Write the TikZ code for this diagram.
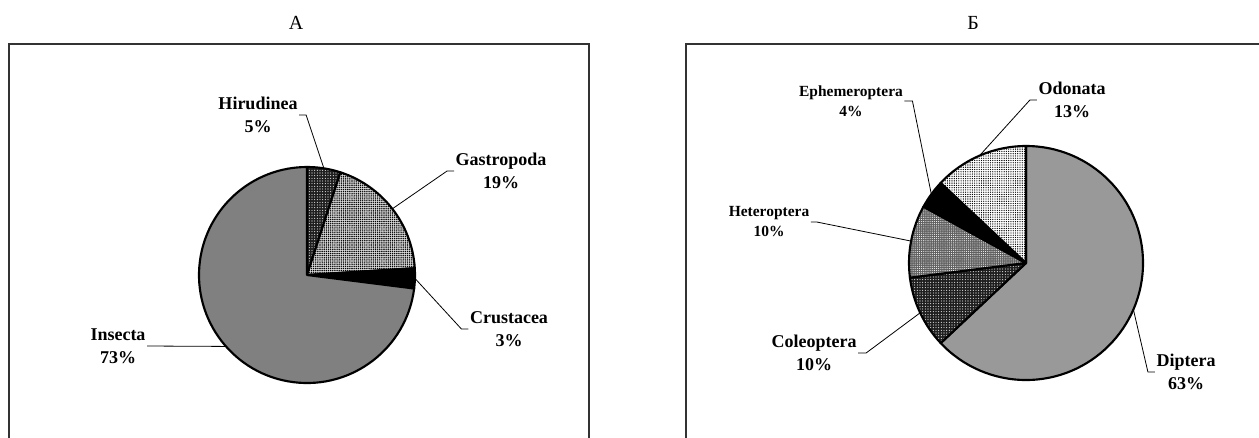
\documentclass[tikz,border=0pt]{standalone}
\usepackage{fontspec}
\setmainfont{Liberation Serif}
\usetikzlibrary{patterns.meta}

\begin{document}
\begin{tikzpicture}[x=0.75pt,y=-0.75pt]
\tikzstyle{ttl}=[font=\fontsize{15}{18}\selectfont,inner sep=1pt]
\tikzstyle{lbl}=[font=\bfseries\fontsize{13.5}{17.5}\selectfont,align=center,inner sep=1pt]
\tikzstyle{lblsmall}=[font=\bfseries\fontsize{11.6}{15}\selectfont,align=center,inner sep=1pt]
\tikzstyle{slice}=[draw=black,line width=1.6pt,line join=round]
\tikzstyle{leader}=[draw=black,line width=0.6pt]
\tikzstyle{frame}=[draw=black!80,line width=0.9pt]
\tikzstyle{darkdots}=[preaction={fill=black!88},pattern={Dots[distance=2pt,radius=0.4pt]},pattern color=white]
\tikzstyle{middots}=[preaction={fill=black!62},pattern={Dots[distance=1.6pt,radius=0.4pt]},pattern color=white]
\tikzstyle{checkdots}=[preaction={fill=black!15},pattern={Dots[distance=1.6pt,radius=0.6pt]},pattern color=black]
\tikzstyle{lightdots}=[preaction={fill=white},pattern={Dots[distance=1.7pt,radius=0.5pt]},pattern color=black]
\useasboundingbox (0,0) rectangle (1259,437);
\clip (0,0) rectangle (1259,437);

% panel frames and titles
\draw[frame] (9,445) -- (9,44) -- (589,44) -- (589,445);
\draw[frame] (686,445) -- (686,44) -- (1265,44);
\node[ttl] (A_t) at (296,23) {А};
\node[ttl] (B_t) at (973,23) {Б};

% pie A
\coordinate (A_c) at (307,275);
\draw[slice,darkdots] (A_c) -- ++(-90:108) arc[start angle=-90,end angle=-72,radius=108] -- cycle;
\draw[slice,checkdots] (A_c) -- ++(-72:108) arc[start angle=-72,end angle=-3.6,radius=108] -- cycle;
\draw[slice,fill=black] (A_c) -- ++(-3.6:108) arc[start angle=-3.6,end angle=7.2,radius=108] -- cycle;
\draw[slice,fill=black!50] (A_c) -- ++(7.2:108) arc[start angle=7.2,end angle=270,radius=108] -- cycle;
\path (A_c) ++(-81:108) coordinate (A_hirE);
\path (A_c) ++(-37.8:108) coordinate (A_gasE);
\path (A_c) ++(1.8:108) coordinate (A_cruE);
\path (A_c) ++(138.6:108) coordinate (A_insE);

\node[lbl] (A_hir) at (258,115) {Hirudinea\\5\%};
\node[lbl] (A_gas) at (501,171) {Gastropoda\\19\%};
\node[lbl] (A_cru) at (509,329) {Crustacea\\3\%};
\node[lbl] (A_ins) at (118,346) {Insecta\\73\%};
\draw[leader] (A_hir.east) -- ++(7,0) -- (A_hirE);
\draw[leader] (A_gas.west) -- ++(-7,0) -- (A_gasE);
\draw[leader] (A_cru.west) -- ++(-7,0) -- (A_cruE);
\draw[leader] (A_ins.east) -- (A_insE);

% pie B
\coordinate (B_c) at (1026,263);
\draw[slice,fill=black!40] (B_c) -- ++(-90:117) arc[start angle=-90,end angle=136.8,radius=117] -- cycle;
\draw[slice,darkdots] (B_c) -- ++(136.8:117) arc[start angle=136.8,end angle=172.8,radius=117] -- cycle;
\draw[slice,middots] (B_c) -- ++(172.8:117) arc[start angle=172.8,end angle=208.8,radius=117] -- cycle;
\draw[slice,fill=black] (B_c) -- ++(208.8:117) arc[start angle=208.8,end angle=223.2,radius=117] -- cycle;
\draw[slice,lightdots] (B_c) -- ++(223.2:117) arc[start angle=223.2,end angle=270,radius=117] -- cycle;
\path (B_c) ++(23.4:117) coordinate (B_dipE);
\path (B_c) ++(154.8:117) coordinate (B_colE);
\path (B_c) ++(190.8:117) coordinate (B_hetE);
\path (B_c) ++(216:117) coordinate (B_ephE);
\path (B_c) ++(246.6:117) coordinate (B_odoE);

\node[lbl] (B_odo) at (1072,100) {Odonata\\13\%};
\node[lblsmall] (B_eph) at (851,101) {Ephemeroptera\\4\%};
\node[lblsmall] (B_het) at (769,222) {Heteroptera\\10\%};
\node[lbl] (B_col) at (814,353) {Coleoptera\\10\%};
\node[lbl] (B_dip) at (1186,372) {Diptera\\63\%};
\draw[leader] (B_odo.west) -- ++(-7,0) -- (B_odoE);
\draw[leader] (B_eph.east) -- ++(8,0) -- (B_ephE);
\draw[leader] (B_het.east) -- ++(6,0) -- (B_hetE);
\draw[leader] (B_col.east) -- ++(8,0) -- (B_colE);
\draw[leader] (B_dip.west) -- ++(-7,0) -- (B_dipE);
\end{tikzpicture}
\end{document}
